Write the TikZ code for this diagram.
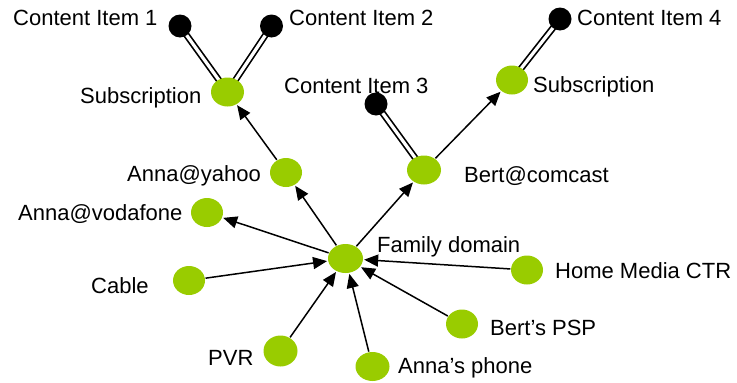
\documentclass[tikz,border=0pt]{standalone}
\usepackage{fontspec}
\setmainfont{Liberation Sans}
\usetikzlibrary{arrows.meta,backgrounds,shapes.geometric}
\definecolor{mygreen}{HTML}{99CC00}
\begin{document}
\begin{tikzpicture}[x=1pt,y=-1pt,
  gnode/.style={ellipse, fill=mygreen, minimum width=32pt, minimum height=29pt, inner sep=0pt},
  cnode/.style={circle, fill=black, minimum size=23pt, inner sep=0pt},
  lbl/.style={anchor=base west, inner sep=0pt, font=\fontsize{22}{26}\selectfont},
  arr/.style={line width=1.5pt, -{Triangle[length=14pt,width=12pt]}, shorten >=1pt, shorten <=0.5pt},
  dbl/.style={double=white, double distance=3.2pt, line width=1.7pt}]
\useasboundingbox (0,0) rectangle (737,383);
% nodes
\node[gnode, minimum width=35pt] (fd) at (345.5,258.5) {};
\node[gnode] (yahoo) at (286,172.5) {};
\node[gnode] (voda) at (207,212.5) {};
\node[gnode] (cable) at (189,280.5) {};
\node[gnode, minimum width=34pt, minimum height=31pt] (pvr) at (280.5,351) {};
\node[gnode, minimum width=34pt] (phone) at (372.5,366.5) {};
\node[gnode] (psp) at (462,324) {};
\node[gnode] (hmc) at (527,270) {};
\node[gnode, minimum width=34pt] (comcast) at (424,170) {};
\node[gnode] (subR) at (512,80) {};
\node[gnode, minimum width=33pt] (subL) at (227.5,92) {};
\node[cnode] (ci1) at (180,26) {};
\node[cnode] (ci2) at (271.5,26) {};
\node[cnode] (ci3) at (376,104) {};
\node[cnode] (ci4) at (560,19) {};
% labels
\node[lbl] (l1) at (13,25) {Content Item 1};
\node[lbl] (l2) at (289,25) {Content Item 2};
\node[lbl] (l4) at (577,25) {Content Item 4};
\node[lbl] (l3) at (284,93) {Content Item 3};
\node[lbl] (lsubL) at (80,103) {Subscription};
\node[lbl] (lsubR) at (533,92) {Subscription};
\node[lbl] (lyahoo) at (127,181) {Anna@yahoo};
\node[lbl] (lvoda) at (18,220) {Anna@vodafone};
\node[lbl] (lcable) at (91,293) {Cable};
\node[lbl] (lcomcast) at (464,182) {Bert@comcast};
\node[lbl] (lfd) at (377,252) {Family domain};
\node[lbl] (lhmc) at (555,278) {Home Media CTR};
\node[lbl] (lpsp) at (490,335) {Bert’s PSP};
\node[lbl] (lphone) at (398,373) {Anna’s phone};
\node[lbl] (lpvr) at (208,365) {PVR};
% connectors
\begin{scope}[on background layer]
\draw[dbl] (subL.center) -- (ci1.center);
\draw[dbl] (subL.center) -- (ci2.center);
\draw[dbl] (comcast.center) -- (ci3.center);
\draw[dbl] (subR.center) -- (ci4.center);
\end{scope}
\draw[arr] (fd) -- (yahoo);
\draw[arr] (fd) -- (voda);
\draw[arr] (fd) -- (comcast);
\draw[arr] (cable) -- (fd);
\draw[arr] (pvr) -- (fd);
\draw[arr] (phone) -- (fd);
\draw[arr] (psp) -- (fd);
\draw[arr] (hmc) -- (fd);
\draw[arr] (yahoo) -- (subL);
\draw[arr] (comcast) -- (subR);
\end{tikzpicture}
\end{document}
